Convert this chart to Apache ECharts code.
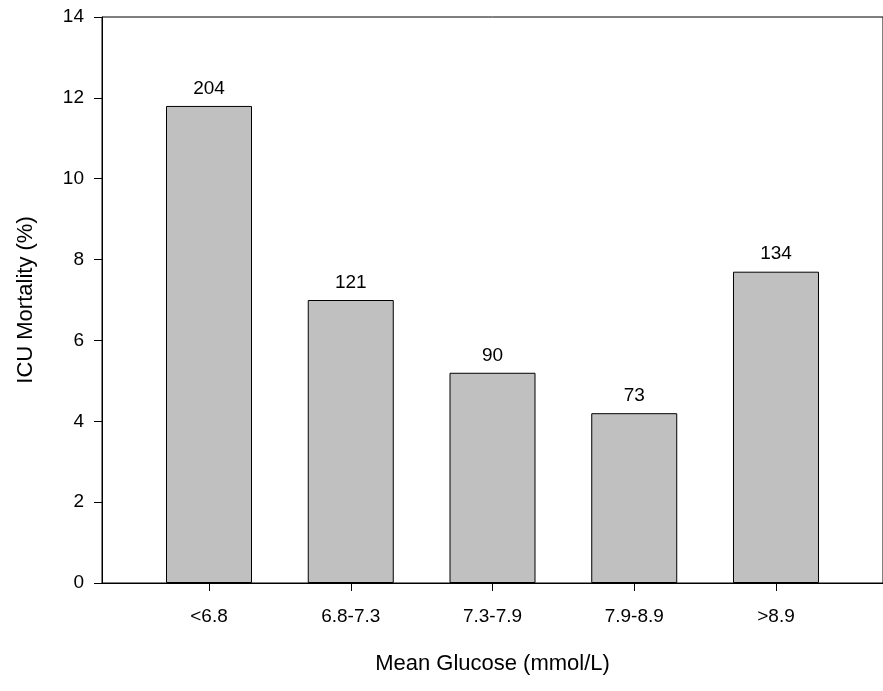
<!DOCTYPE html>
<html>
<head>
<meta charset="utf-8">
<script src="https://cdn.jsdelivr.net/npm/echarts@6/dist/echarts.min.js"></script>
<style>
html,body{margin:0;padding:0;background:#fff;}
#chart{width:883px;height:691px;}
</style>
</head>
<body>
<div id="chart"></div>
<script>
var categories = ['<6.8', '6.8-7.3', '7.3-7.9', '7.9-8.9', '>8.9'];
var mortality = [11.8, 7.0, 5.2, 4.2, 7.7];
var counts = [204, 121, 90, 73, 134];
var yTicks = [0, 2, 4, 6, 8, 10, 12, 14];

var font = 'Liberation Sans, Arial, Helvetica, sans-serif';
var chart = echarts.init(document.getElementById('chart'), null, {renderer: 'canvas'});
var positions = categories.map(function (c, i) { return i; });
var seriesData = mortality.map(function (v, i) { return [positions[i], v]; });

chart.setOption({
  animation: false,
  backgroundColor: '#ffffff',
  grid: {
    left: 102, right: -3.5, top: 17, bottom: 108,
    show: true, borderColor: '#000', borderWidth: 1, backgroundColor: 'transparent'
  },
  xAxis: {
    type: 'value',
    min: -0.755, max: 4.755,
    splitLine: {show: false},
    axisLine: {show: true, onZero: false, lineStyle: {color: '#000', width: 1}},
    axisTick: {show: true, inside: false, length: 8, lineStyle: {color: '#000'}, customValues: positions},
    axisLabel: {
      customValues: positions,
      color: '#000', fontFamily: font, fontSize: 19, margin: 24,
      formatter: function (v) { return categories[Math.round(v)]; }
    },
    name: 'Mean Glucose (mmol/L)',
    nameLocation: 'middle', nameGap: 70,
    nameTextStyle: {color: '#000', fontFamily: font, fontSize: 22}
  },
  yAxis: {
    type: 'value',
    min: yTicks[0], max: yTicks[yTicks.length - 1], interval: 2,
    splitLine: {show: false},
    axisLine: {show: true, onZero: false, lineStyle: {color: '#000', width: 1}},
    axisTick: {show: true, inside: false, length: 8, lineStyle: {color: '#000'}},
    axisLabel: {color: '#000', fontFamily: font, fontSize: 19, margin: 18},
    name: 'ICU Mortality (%)',
    nameLocation: 'middle', nameGap: 65,
    nameTextStyle: {color: '#000', fontFamily: font, fontSize: 22}
  },
  series: [{
    type: 'bar',
    data: seriesData,
    barWidth: 86,
    itemStyle: {color: '#c0c0c0', borderColor: '#000', borderWidth: 1},
    label: {
      show: true, position: 'top', distance: 8,
      color: '#000', fontFamily: font, fontSize: 19,
      formatter: function (p) { return String(counts[p.dataIndex]); }
    }
  }]
});
</script>
</body>
</html>
